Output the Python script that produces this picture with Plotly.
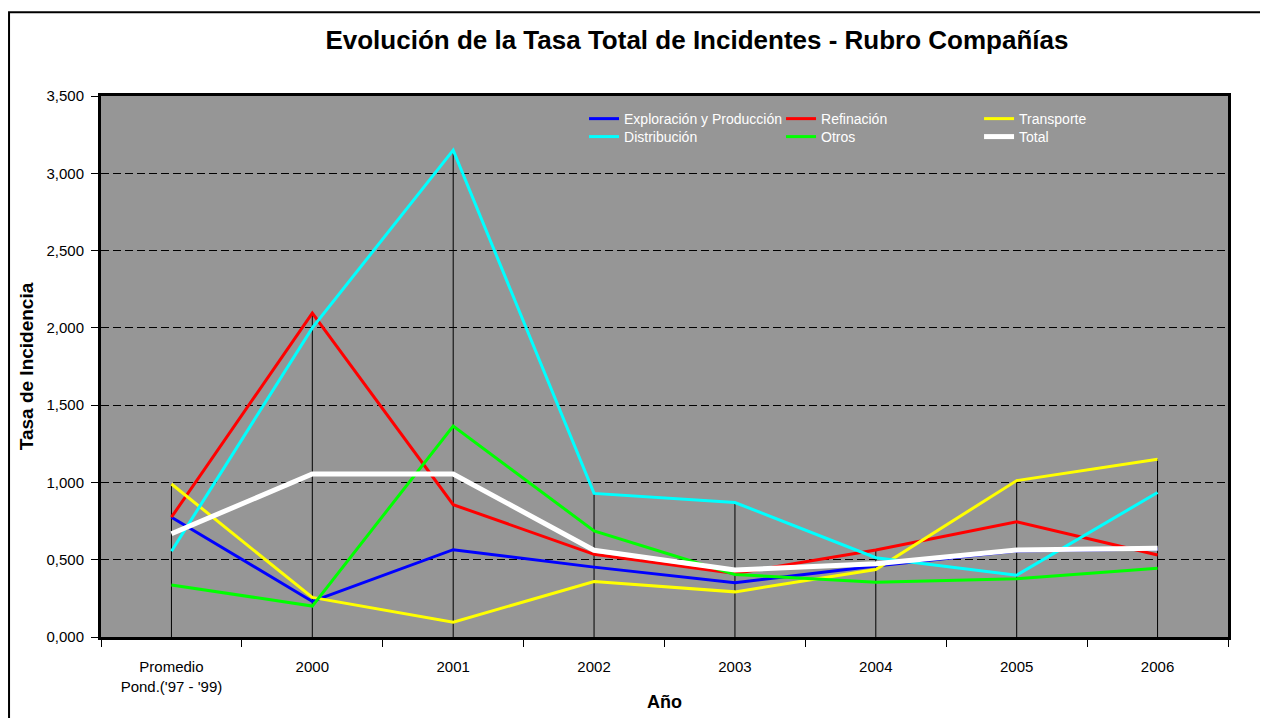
import plotly.graph_objects as go

# Tasa total de incidentes por año
years = ["Promedio<br>Pond.('97 - '99)", "2000", "2001", "2002", "2003", "2004", "2005", "2006"]

exploracion = [0.775, 0.230, 0.565, 0.452, 0.351, 0.459, 0.556, 0.570]
refinacion = [0.775, 2.095, 0.856, 0.535, 0.411, 0.563, 0.745, 0.530]
transporte = [0.990, 0.256, 0.096, 0.359, 0.292, 0.437, 1.012, 1.150]
distribucion = [0.555, 2.000, 3.150, 0.929, 0.870, 0.513, 0.400, 0.935]
otros = [0.337, 0.200, 1.365, 0.686, 0.405, 0.355, 0.377, 0.444]
total = [0.668, 1.055, 1.055, 0.561, 0.433, 0.474, 0.563, 0.574]

# (nombre, valores, color, ancho)
series = [
    ("Exploración y Producción", exploracion, "#0000FF", 3),
    ("Refinación", refinacion, "#FF0000", 3),
    ("Transporte", transporte, "#FFFF00", 3),
    ("Distribución", distribucion, "#00FFFF", 3),
    ("Otros", otros, "#00FF00", 3),
    ("Total", total, "#FFFFFF", 5),
]

FONT = "Liberation Sans, Arial, sans-serif"

# una leyenda por entrada: 3 columnas x 2 filas, como en el original
legend_cols = [0.4286, 0.6034, 0.7791]
legend_rows = [0.987, 0.9538]

fig = go.Figure()

# líneas de caída (desde el valor máximo de cada año hasta el eje)
drop_x, drop_y = [], []
for i, cat in enumerate(years):
    top = max(s[1][i] for s in series)
    drop_x += [cat, cat, None]
    drop_y += [0, top, None]
fig.add_scatter(x=drop_x, y=drop_y, mode="lines", line=dict(color="black", width=1),
                showlegend=False, hoverinfo="skip")

legends = {}
for k, (name, vals, color, w) in enumerate(series):
    key = "legend" if k == 0 else f"legend{k + 1}"
    fig.add_scatter(x=years, y=vals, name=name, mode="lines", legend=key,
                    line=dict(color=color, width=w))
    legends[key] = dict(x=legend_cols[k % 3], y=legend_rows[k // 3],
                        xanchor="left", yanchor="top",
                        bgcolor="rgba(0,0,0,0)", font=dict(color="white", size=14))

fig.update_layout(
    width=1260, height=710,
    paper_bgcolor="white", plot_bgcolor="#969696",
    font=dict(family=FONT, size=15, color="black"),
    margin=dict(l=93, r=40, t=88, b=81, autoexpand=False),
    title=dict(text="<b>Evolución de la Tasa Total de Incidentes - Rubro Compañías</b>",
               x=0.5468, xanchor="center", y=0.955, yanchor="middle",
               font=dict(size=26, family=FONT)),
    separators=",.",
    showlegend=True,
    shapes=[dict(type="rect", xref="paper", yref="paper",
                 x0=-0.0816, x1=1.1, y0=-0.3, y1=1.155,
                 line=dict(color="black", width=2), layer="below")],
    **legends,
)

fig.update_xaxes(
    type="category", range=[-0.5, 7.5], tickson="boundaries", ticks="outside", ticklen=7,
    tickcolor="black", tickwidth=1, showline=True, linecolor="black", linewidth=3,
    mirror=True, showgrid=False, ticklabelstandoff=14, automargin=False,
    title=dict(text="<b>Año</b>", font=dict(size=18), standoff=2),
)
fig.update_yaxes(
    range=[0, 3.5], dtick=0.5, tickformat=".3f", ticks="outside", ticklen=7,
    tickcolor="black", showline=True, linecolor="black", linewidth=3, mirror=True,
    showgrid=True, gridcolor="black", gridwidth=1, griddash="8px,4px", zeroline=False,
    ticklabelstandoff=4, automargin=False,
    title=dict(text="<b>Tasa de Incidencia</b>", font=dict(size=19), standoff=8),
)

fig.write_html("out.html")
